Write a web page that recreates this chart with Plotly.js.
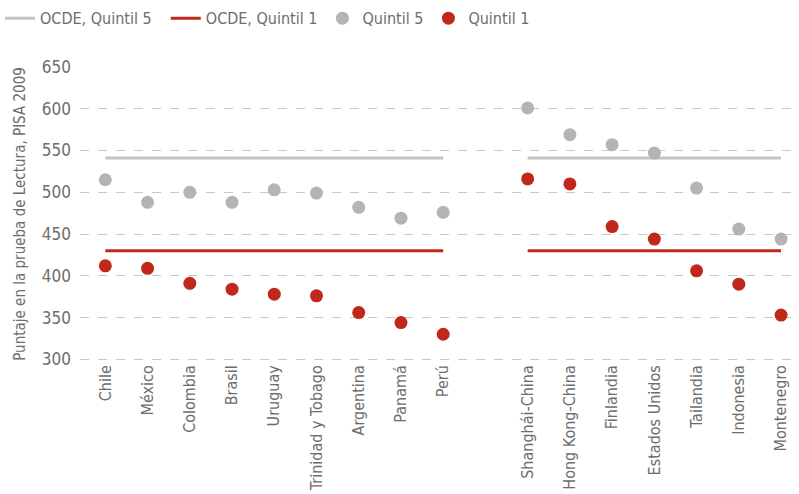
<!DOCTYPE html>
<html>
<head>
<meta charset="utf-8">
<script src="https://cdn.plot.ly/plotly-3.0.1.min.js"></script>
<style>html,body{margin:0;padding:0;background:#fff;}#chart{width:799px;height:494px;}</style>
</head>
<body>
<div id="chart"></div>
<script>
const groupA = ["Chile","México","Colombia","Brasil","Uruguay","Trinidad y Tobago","Argentina","Panamá","Perú"];
const groupB = ["Shanghái-China","Hong Kong-China","Finlandia","Estados Unidos","Tailandia","Indonesia","Montenegro"];
const gap = " ";
const categories = groupA.concat([gap], groupB);

const quintil5A = [515, 488, 500, 488, 503, 499, 482, 469, 476];
const quintil1A = [412, 409, 391, 384, 378, 376, 356, 344, 330];
const quintil5B = [601, 569, 557, 547, 505, 456, 444];
const quintil1B = [516, 510, 459, 444, 406, 390, 353];
const ocdeQ5 = 541;
const ocdeQ1 = 430;

const gray = "#b4b4b8";
const red = "#c0281c";
const font = "DejaVu Sans Condensed, Liberation Sans Narrow, sans-serif";

const q5y = quintil5A.concat([null], quintil5B);
const q1y = quintil1A.concat([null], quintil1B);

function hline(val, color, name) {
  const ys = groupA.map(() => val).concat([null], groupB.map(() => val));
  return {x: categories, y: ys, type: "scatter", mode: "lines", name: name,
    connectgaps: false, line: {color: color, width: 3}, hoverinfo: "skip"};
}

const data = [
  hline(ocdeQ5, "#c4c4c6", "OCDE, Quintil 5\u00a0\u00a0"),
  hline(ocdeQ1, red, "OCDE, Quintil 1"),
  {x: categories, y: q5y, type: "scatter", mode: "markers", name: "Quintil 5",
    marker: {color: gray, size: 13}},
  {x: categories, y: q1y, type: "scatter", mode: "markers", name: "Quintil 1",
    marker: {color: red, size: 13}}
];

const layout = {
  width: 799, height: 494,
  margin: {l: 80, r: 4, t: 67, b: 133},
  paper_bgcolor: "#fff", plot_bgcolor: "#fff",
  font: {family: font, color: "#6d6d6d", size: 16},
  showlegend: true,
  legend: {orientation: "h", x: 0, xref: "container", xanchor: "left", yref: "container", y: 0.963, yanchor: "middle",
    font: {size: 16, color: "#6d6d6d"}, itemwidth: 30, tracegroupgap: 0},
  xaxis: {type: "category", categoryorder: "array", categoryarray: categories,
    range: [-0.6, 16.33], showgrid: false, zeroline: false, showline: false,
    ticks: "", tickangle: -90, tickfont: {size: 16, color: "#6d6d6d"}},
  yaxis: {range: [298, 650], tickvals: [300,350,400,450,500,550,600,650],
    showgrid: true, gridcolor: "#c8c8c8", griddash: "dash", gridwidth: 1,
    zeroline: false, showline: false, ticks: "", ticklabelstandoff: 8,
    tickfont: {size: 17, color: "#6d6d6d"},
    title: {text: "Puntaje en la prueba de Lectura, PISA 2009", font: {size: 15, color: "#6d6d6d"}, standoff: 12}}
};

Plotly.newPlot("chart", data, layout, {displayModeBar: false, staticPlot: true});
</script>
</body>
</html>
